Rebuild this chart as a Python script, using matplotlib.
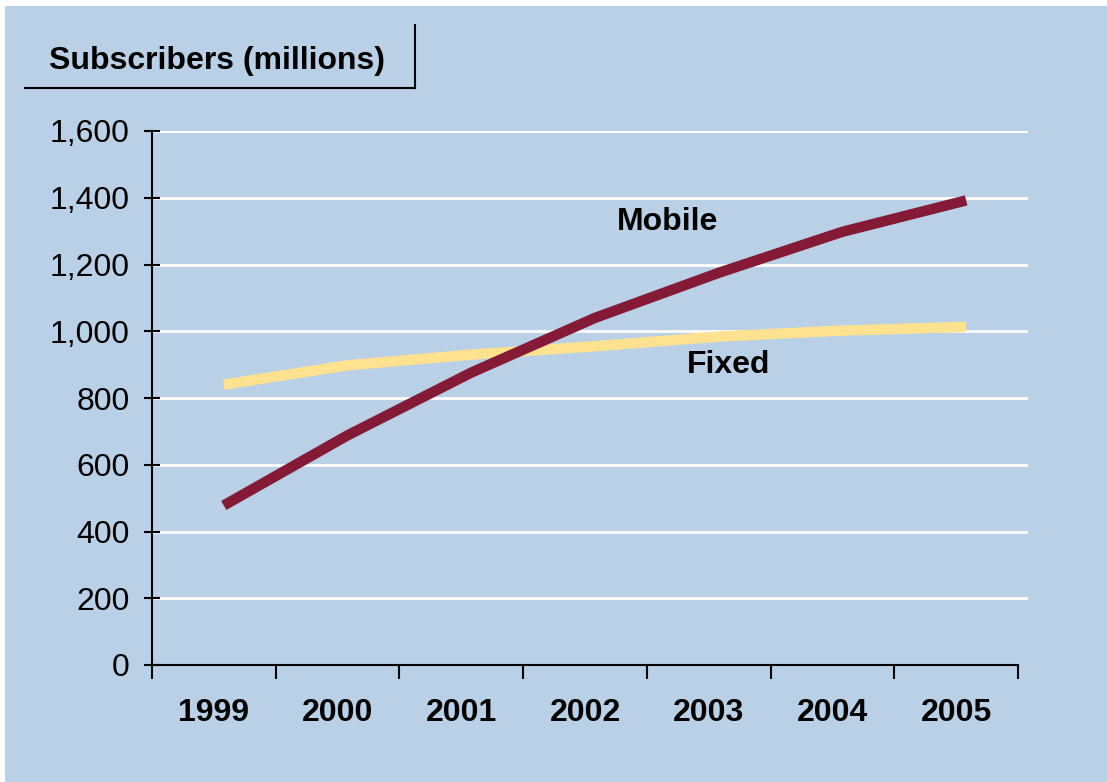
import matplotlib
matplotlib.use("Agg")
import matplotlib.pyplot as plt
from matplotlib.lines import Line2D
from matplotlib.patches import Rectangle
import numpy as np

# data
years = ['1999', '2000', '2001', '2002', '2003', '2004', '2005']
mobile = [478, 688, 876, 1040, 1175, 1298, 1392]
fixed = [840, 898, 930, 955, 984, 1002, 1013]
yticks = [0, 200, 400, 600, 800, 1000, 1200, 1400, 1600]

bg = '#B9D0E6'
mobile_col = '#841A36'
fixed_col = '#FFE290'

plt.rcParams['font.family'] = ['Liberation Sans', 'DejaVu Sans']

fig = plt.figure(figsize=(11.07, 7.82), dpi=100)
fig.patch.set_facecolor('white')
fig.add_artist(Rectangle((5 / 1107, 0), 1 - 5 / 1107, 1 - 6 / 782,
                         transform=fig.transFigure, facecolor=bg,
                         edgecolor='none', zorder=-10))

ax = fig.add_axes([152 / 1107, 117 / 782, 876 / 1107, 534 / 782])
ax.set_facecolor('none')

x = np.arange(len(years)) + 0.08
ax.plot(x, fixed, color=fixed_col, lw=7.5, solid_capstyle='butt', zorder=3)
ax.plot(x, mobile, color=mobile_col, lw=7.5, solid_capstyle='butt', zorder=4)

ax.set_ylim(0, 1600)
ax.set_xlim(-0.5, 6.58)

# white gridlines
for v in yticks[1:]:
    ax.axhline(v, color='white', lw=2, zorder=1)

ax.set_yticks(yticks)
ax.set_yticklabels([f'{v:,}' for v in yticks], fontsize=23)
ax.tick_params(axis='y', direction='inout', length=12, width=1.5, pad=10)

ax.set_xticks(np.arange(len(years) + 1) - 0.5)
ax.set_xticklabels([])
ax.set_xticks(np.arange(len(years)), minor=True)
ax.set_xticklabels(years, minor=True, fontsize=23, fontweight='bold')
ax.tick_params(axis='x', which='major', direction='out', length=10, width=1.5)
ax.tick_params(axis='x', which='minor', length=0, pad=24)

for s in ['top', 'right']:
    ax.spines[s].set_visible(False)
ax.spines['left'].set_linewidth(1.5)
ax.spines['bottom'].set_linewidth(1.5)
ax.spines['bottom'].set_bounds(-0.5, 6.5)

ax.text(3.67, 1326, 'Mobile', fontsize=23, fontweight='bold',
        ha='center', va='center')
ax.text(4.16, 898, 'Fixed', fontsize=23, fontweight='bold',
        ha='center', va='center')

# boxed unit label top left
fig.text(217 / 1107, 1 - 61 / 782, 'Subscribers (millions)', fontsize=23,
         fontweight='bold', ha='center', va='center')
fig.add_artist(Line2D([25 / 1107, 415 / 1107], [1 - 88 / 782, 1 - 88 / 782],
                      transform=fig.transFigure, color='black', lw=1.5))
fig.add_artist(Line2D([415 / 1107, 415 / 1107], [1 - 25 / 782, 1 - 88 / 782],
                      transform=fig.transFigure, color='black', lw=1.5))

fig.savefig('out.png', dpi=100)
